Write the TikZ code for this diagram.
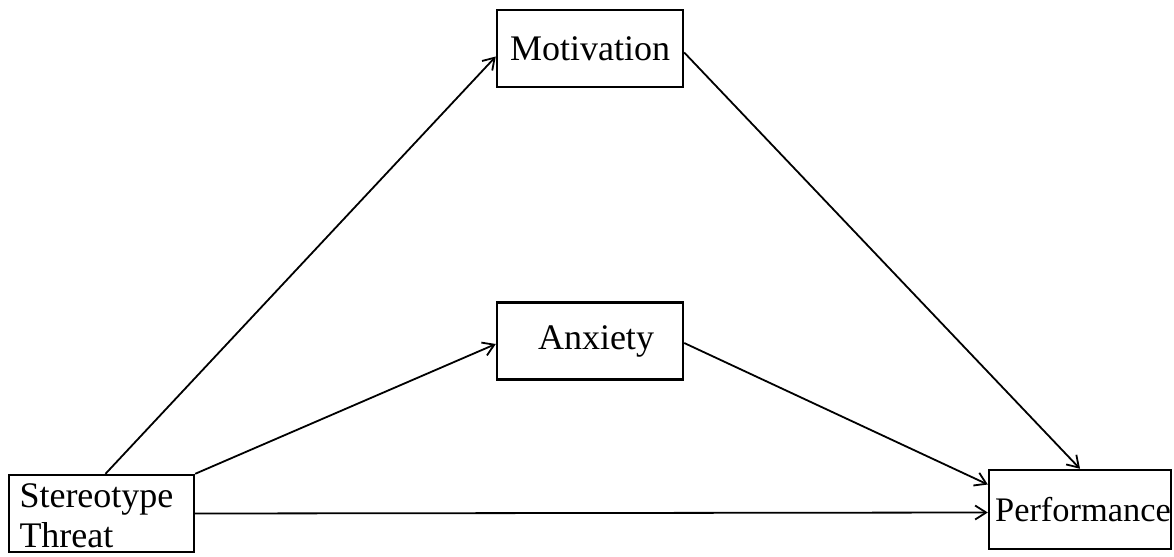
\documentclass[tikz,border=0pt]{standalone}
\usepackage{fontspec}
\setmainfont{Liberation Serif}
\usepackage{tikz}
\usetikzlibrary{positioning,arrows.meta}

\begin{document}
\begin{tikzpicture}[
    x=0.5pt,
    y=-0.5pt,
    box/.style={%
      draw,
      rectangle,
      line width=1.2pt,
      minimum width=93pt,
      minimum height=38.5pt,
      inner sep=0pt,
      font=\fontsize{18}{20}\selectfont,
    },
    link/.style={%
      -{Straight Barb[length=5.5pt,width=7pt]},
      line width=0.9pt,
    },
  ]

    \useasboundingbox (0,0) rectangle (1174,557);

    \node [box] (mot) at (590,48.5) {Motivation};
    \node [box] (anx) at (590,341) {\hspace{6pt}Anxiety};
    \node [box, text width=82pt, align=left, minimum width=92.5pt,
      inner xsep=5pt, inner ysep=0pt] (st) at (101.5,513.5)
      {\rule{0pt}{14pt}Stereotype\\Threat};
    \node [box, minimum width=91pt, minimum height=39.5pt,
      font=\fontsize{17.2}{20}\selectfont] (perf) at (1080,509.5)
      {\hspace{3pt}Performance};

    \draw [link] ([xshift=2pt]st.north) -- ([yshift=-4pt]mot.west);
    \draw [link] (st.north east) -- ([yshift=-1.5pt]anx.west);
    \draw [link] (st.east) -- ([yshift=-1.5pt]perf.west);
    \draw [link] ([yshift=-2pt]mot.east) -- (perf.north);
    \draw [link] ([yshift=-1pt]anx.east) -- ([yshift=12.5pt]perf.west);
\end{tikzpicture}
\end{document}
